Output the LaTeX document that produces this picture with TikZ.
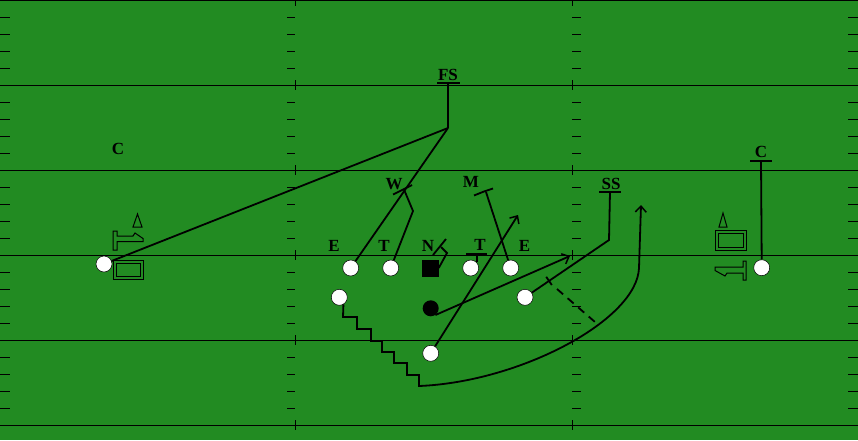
\documentclass[tikz,border=0pt]{standalone}
\usepackage{fontspec}
\setmainfont{Liberation Serif}
\usetikzlibrary{arrows.meta}
\definecolor{fieldgreen}{RGB}{34,139,34}
\begin{document}
\begin{tikzpicture}[x=1pt,y=-1pt,
  fieldline/.style={black, line width=1pt},
  hashmark/.style={black, line width=1pt},
  numline/.style={draw=black, line width=1pt, line join=miter},
  route/.style={black, line width=1.8pt, line join=miter},
  routearrow/.style={route, -{Straight Barb[length=6pt,width=11pt,line width=1.5pt]}},
  dashroute/.style={black, line width=1.8pt, dash pattern=on 8pt off 6pt},
  offplayer/.style={circle, fill=white, draw=black, line width=0.5pt, minimum size=16pt, inner sep=0pt},
  ballplayer/.style={circle, fill=black, minimum size=16pt, inner sep=0pt},
  centerplayer/.style={rectangle, fill=black, minimum size=17pt, inner sep=0pt},
  lab/.style={font=\bfseries\fontsize{17}{17}\selectfont, inner sep=0pt, text=black},
  bar/.style={black, line width=1.8pt}
]
\useasboundingbox (0,0) rectangle (858,440);
\fill[fieldgreen] (0,0) rectangle (858,440);

% yard lines
\foreach \y in {0.5,85,170,255,340,425}
  \draw[fieldline] (0,\y) -- (858,\y);
% hash marks
\foreach \y in {17,34,51,68,102,119,136,153,187,204,221,238,272,289,306,323,357,374,391,408} {
  \draw[hashmark] (0,\y) -- (10,\y);
  \draw[hashmark] (287,\y) -- (295,\y);
  \draw[hashmark] (572,\y) -- (581,\y);
  \draw[hashmark] (848,\y) -- (858,\y);
}
\foreach \y in {85,170,255,340,425} {
  \draw[hashmark] (295,\y-5) -- (295,\y+5);
  \draw[hashmark] (572,\y-5) -- (572,\y+5);
}
\draw[hashmark] (295,0) -- (295,6);
\draw[hashmark] (572,0) -- (572,6);

% yard numbers (outlined "10")
\draw[numline] (113,260) rectangle (143,279);
\draw[numline] (116,263) rectangle (140,276);
\draw[numline] (113,231) -- (117,231) -- (117,236) -- (133,236) -- (135,233) -- (143,238.5) -- (143,241.5) -- (117,241.5) -- (117,250) -- (113,250) -- cycle;
\draw[numline] (133,227) -- (137.5,214) -- (142,227) -- cycle;
\draw[numline] (715,230) rectangle (746,250);
\draw[numline] (718,233) rectangle (743,247);
\draw[numline] (746,261) -- (746,280) -- (743,280) -- (743,273) -- (727,273) -- (725,276) -- (715,270.5) -- (715,267) -- (743,267) -- (743,261) -- cycle;
\draw[numline] (719,227) -- (723,213) -- (727,227) -- cycle;

% offensive players
\node[offplayer] (lwr) at (104,264) {};
\node[offplayer] (le) at (350.7,268) {};
\node[offplayer] (lt) at (390.7,268) {};
\node[centerplayer] (cn) at (430,268) {};
\node[offplayer] (rt) at (470.7,268) {};
\node[offplayer] (re) at (510.7,268) {};
\node[offplayer] (ls) at (339.3,297.3) {};
\node[ballplayer] (bb) at (430.7,308.3) {};
\node[offplayer] (qb) at (430.7,353.3) {};
\node[offplayer] (rs) at (525,297.3) {};
\node[offplayer] (rwr) at (761.7,267.7) {};

% labels
\node[lab] (fs) at (448,75) {FS};
\node[lab] (cl) at (118,149) {C};
\node[lab] (cr) at (761,152) {C};
\node[lab] (wl) at (394,184) {W};
\node[lab] (ml) at (471,182) {M};
\node[lab] (ssl) at (611,183.5) {SS};
\node[lab] (lel) at (334,246) {E};
\node[lab] (ltl) at (384,246) {T};
\node[lab] (nl) at (428,246) {N};
\node[lab] (rtl) at (480,245) {T};
\node[lab] (rel) at (524.5,246) {E};

% FS
\coordinate (fsb) at (448,83);
\coordinate (fsp) at (448,128);
\draw[bar] (437,83) -- (460,83);
\draw[route] (fsb) -- (fsp);
\draw[route] (lwr) -- (fsp);
\draw[route] (le) -- (fsp);

% W
\coordinate (wtop) at (404,189.5);
\draw[route] (393,194.5) -- (412,185);
\draw[route] (lt) -- (413,211) -- (wtop);

% M
\coordinate (mtop) at (486,192);
\draw[route] (474,195.5) -- (484,191.5) -- (493,188.5);
\draw[route] (re) -- (mtop);

% N
\draw[route] (433,255) -- (446,239);
\draw[route] (cn.east) -- (447,253) -- (441,247);

% T right
\draw[bar] (466,254) -- (487,254);
\draw[route] (477,254) -- (477,262);

% SS
\coordinate (ssb) at (610,192);
\draw[bar] (599,192) -- (621,192);
\draw[route] (ssb) -- (609,240) -- (rs);
\draw[route] (546.2,276.8) -- (551.8,285);
\draw[dashroute] (557,289) -- (595,322);

% C right
\coordinate (crb) at (761,161);
\draw[bar] (750,161) -- (772,161);
\draw[route] (crb) -- (rwr.north);

% ball carrier & QB routes
\coordinate (bbend) at (570,256);
\coordinate (qbend) at (518,215);
\draw[routearrow] (bb.-55) -- (bbend);
\draw[routearrow] (qb) -- (qbend);

% slot route: stair-step then wheel
\coordinate (wheelend) at (641,205);
\draw[routearrow] (ls.-60) -- (343,317) -- (357,317) -- (357,329) -- (371,329) -- (371,341) -- (382,341) -- (382,352) -- (394,352) -- (394,363) -- (407,363) -- (407,375) -- (419,375) -- (419,386)
  .. controls (520,382) and (637,320) .. (639,268) -- (wheelend);
\end{tikzpicture}
\end{document}
